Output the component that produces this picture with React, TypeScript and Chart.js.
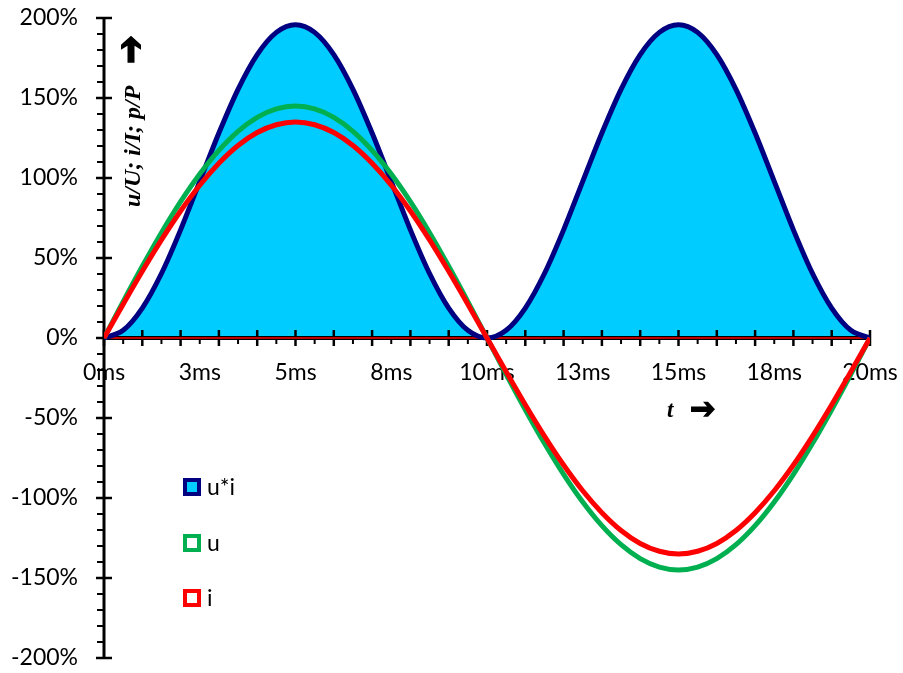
import React, { useEffect, useRef } from 'react';
import { Chart, registerables } from 'chart.js';

Chart.register(...registerables);

// time in ms
const timeMs = [
  0, 0.5, 1, 1.5, 2, 2.5, 3, 3.5, 4, 4.5, 5, 5.5, 6, 6.5, 7, 7.5, 8, 8.5, 9, 9.5, 10,
  10.5, 11, 11.5, 12, 12.5, 13, 13.5, 14, 14.5, 15, 15.5, 16, 16.5, 17, 17.5, 18, 18.5, 19, 19.5, 20,
];
// u/U in %
const uValues = [
  0, 22.7, 44.8, 65.8, 85.2, 102.5, 117.3, 129.2, 137.9, 143.2, 145, 143.2, 137.9, 129.2, 117.3, 102.5, 85.2, 65.8, 44.8, 22.7, 0,
  -22.7, -44.8, -65.8, -85.2, -102.5, -117.3, -129.2, -137.9, -143.2, -145, -143.2, -137.9, -129.2, -117.3, -102.5, -85.2, -65.8, -44.8, -22.7, 0,
];
// i/I in %
const iValues = [
  0, 21.1, 41.7, 61.3, 79.4, 95.5, 109.2, 120.3, 128.4, 133.3, 135, 133.3, 128.4, 120.3, 109.2, 95.5, 79.4, 61.3, 41.7, 21.1, 0,
  -21.1, -41.7, -61.3, -79.4, -95.5, -109.2, -120.3, -128.4, -133.3, -135, -133.3, -128.4, -120.3, -109.2, -95.5, -79.4, -61.3, -41.7, -21.1, 0,
];
// p/P = u*i in %
const pValues = [
  0, 4.8, 18.7, 40.3, 67.6, 97.9, 128.1, 155.4, 177.1, 191.0, 195.8, 191.0, 177.1, 155.4, 128.1, 97.9, 67.6, 40.3, 18.7, 4.8, 0,
  4.8, 18.7, 40.3, 67.6, 97.9, 128.1, 155.4, 177.1, 191.0, 195.8, 191.0, 177.1, 155.4, 128.1, 97.9, 67.6, 40.3, 18.7, 4.8, 0,
];

const seriesNames = ['u*i', 'u', 'i'];
const xLabelStep = 2.5;
const xMajorStep = 1;
const xMinorStep = 0.5;
const yLabelStep = 50;
const yMinorStep = 10;
const xMin = 0;
const xMax = 20;
const yMin = -200;
const yMax = 200;

const NAVY = '#000080';
const CYAN = '#00CCFF';
const GREEN = '#00B050';
const RED = '#FF0000';
const TICK_FONT = { family: 'Lato', size: 23 };

function toPoints(vals: number[]) {
  return vals.map((v, k) => ({ x: timeMs[k], y: v }));
}

function drawArrow(ctx: CanvasRenderingContext2D, x: number, y: number, angle: number, len: number, headW: number, shaftW: number, headLen: number) {
  ctx.save();
  ctx.translate(x, y);
  ctx.rotate(angle);
  const hs = shaftW / 2;
  const hh = headW / 2;
  const bx = len - headLen;
  ctx.beginPath();
  ctx.moveTo(0, -hs);
  ctx.lineTo(bx + 2, -hs);
  ctx.lineTo(bx - 2, -hh);
  ctx.lineTo(bx + 3, -hh);
  ctx.lineTo(len, 0);
  ctx.lineTo(bx + 3, hh);
  ctx.lineTo(bx - 2, hh);
  ctx.lineTo(bx + 2, hs);
  ctx.lineTo(0, hs);
  ctx.closePath();
  ctx.fillStyle = '#000';
  ctx.fill();
  ctx.restore();
}

const axesPlugin = {
  id: 'customAxes',
  beforeDatasetsDraw(chart: any) {
    const { ctx, chartArea } = chart;
    const xs = chart.scales.x;
    const ys = chart.scales.y;
    const y0 = ys.getPixelForValue(0);
    const xAxisX = xs.getPixelForValue(xMin);
    ctx.save();
    ctx.strokeStyle = '#000';
    // y axis ticks
    for (let v = yMin; v <= yMax + 1e-9; v += yMinorStep) {
      const py = ys.getPixelForValue(v);
      ctx.beginPath();
      if (Math.abs(v % yLabelStep) < 1e-9) {
        ctx.lineWidth = 2.5;
        ctx.moveTo(xAxisX - 8, py);
        ctx.lineTo(xAxisX + 8, py);
      } else {
        ctx.lineWidth = 2;
        ctx.moveTo(xAxisX - 7, py);
        ctx.lineTo(xAxisX, py);
      }
      ctx.stroke();
    }
    // y axis line
    ctx.lineWidth = 3;
    ctx.beginPath();
    ctx.moveTo(xAxisX, chartArea.top);
    ctx.lineTo(xAxisX, chartArea.bottom);
    ctx.stroke();
    // x axis ticks
    for (let v = xMin; v <= xMax + 1e-9; v += xMinorStep) {
      const px = xs.getPixelForValue(v);
      ctx.beginPath();
      if (Math.abs(v / xMajorStep - Math.round(v / xMajorStep)) < 1e-9) {
        ctx.lineWidth = 2.5;
        ctx.moveTo(px, y0 - 8);
        ctx.lineTo(px, y0 + 8);
      } else {
        ctx.lineWidth = 2;
        ctx.moveTo(px, y0);
        ctx.lineTo(px, y0 + 6);
      }
      ctx.stroke();
    }
    // x axis line
    ctx.lineWidth = 4;
    ctx.beginPath();
    ctx.moveTo(xs.getPixelForValue(xMin), y0);
    ctx.lineTo(xs.getPixelForValue(xMax), y0);
    ctx.stroke();
    ctx.strokeStyle = RED;
    ctx.lineWidth = 1.5;
    ctx.beginPath();
    ctx.moveTo(xs.getPixelForValue(xMin), y0);
    ctx.lineTo(xs.getPixelForValue(xMax), y0);
    ctx.stroke();
    ctx.restore();
  },
  afterDraw(chart: any) {
    const { ctx, chartArea } = chart;
    const xs = chart.scales.x;
    const ys = chart.scales.y;
    ctx.save();
    // y axis title (rotated)
    ctx.font = 'italic bold 24px "Liberation Serif"';
    const title = 'u/U; i/I; p/P';
    const w = ctx.measureText(title).width;
    ctx.translate(chartArea.left + 36, 207);
    ctx.rotate(-Math.PI / 2);
    ctx.fillStyle = '#000';
    ctx.textBaseline = 'alphabetic';
    ctx.textAlign = 'left';
    ctx.fillText(title, 0, 0);
    drawArrow(ctx, w + 23, -9, 0, 27, 20, 7, 12);
    ctx.restore();

    // t label
    ctx.save();
    ctx.font = 'italic bold 23px "Liberation Serif"';
    ctx.fillStyle = '#000';
    ctx.textBaseline = 'alphabetic';
    ctx.textAlign = 'left';
    const tx = xs.getPixelForValue(14.7);
    const ty = ys.getPixelForValue(-49.5);
    ctx.fillText('t', tx, ty);
    drawArrow(ctx, tx + 24, ty - 8, 0, 24, 15, 5.5, 10);
    ctx.restore();

    // legend
    ctx.save();
    const colors = [[NAVY, CYAN], [GREEN, '#FFFFFF'], [RED, '#FFFFFF']];
    const lx = chartArea.left + 79;
    const rowY = [487, 543, 598];
    ctx.font = '23px Lato';
    ctx.textBaseline = 'middle';
    ctx.textAlign = 'left';
    seriesNames.forEach((name, k) => {
      const cy = rowY[k];
      ctx.fillStyle = colors[k][0];
      ctx.fillRect(lx, cy - 9, 18, 18);
      ctx.fillStyle = colors[k][1];
      ctx.fillRect(lx + 4, cy - 5, 10, 10);
      ctx.fillStyle = '#000';
      ctx.fillText(name, lx + 24, cy + 1);
    });
    ctx.restore();
  },
};

export default function App() {
  const ref = useRef<HTMLCanvasElement | null>(null);
  useEffect(() => {
    if (!ref.current) return;
    const noPad = (s: any) => {
      s.paddingTop = 0;
      s.paddingBottom = 0;
      s.paddingLeft = 0;
      s.paddingRight = 0;
    };
    const chart = new Chart(ref.current, {
      type: 'line',
      data: {
        datasets: [
          {
            label: seriesNames[0],
            data: toPoints(pValues),
            borderColor: NAVY,
            backgroundColor: CYAN,
            borderWidth: 5,
            fill: 'origin',
            pointRadius: 0,
            cubicInterpolationMode: 'monotone',
            order: 3,
          },
          {
            label: seriesNames[1],
            data: toPoints(uValues),
            borderColor: GREEN,
            backgroundColor: GREEN,
            borderWidth: 5,
            fill: false,
            pointRadius: 0,
            cubicInterpolationMode: 'monotone',
            order: 2,
          },
          {
            label: seriesNames[2],
            data: toPoints(iValues),
            borderColor: RED,
            backgroundColor: RED,
            borderWidth: 5,
            fill: false,
            pointRadius: 0,
            cubicInterpolationMode: 'monotone',
            order: 1,
          },
        ],
      },
      options: {
        animation: false,
        responsive: true,
        maintainAspectRatio: false,
        layout: { padding: { top: 18, right: 33, bottom: 15, left: 0 } },
        plugins: {
          legend: { display: false },
          tooltip: { enabled: false },
          filler: { drawTime: 'beforeDatasetsDraw' },
        },
        scales: {
          x: {
            type: 'linear',
            position: { y: 0 },
            min: xMin,
            max: xMax,
            grid: { display: false, drawTicks: false },
            border: { display: false },
            ticks: {
              stepSize: xLabelStep,
              autoSkip: false,
              maxRotation: 0,
              color: '#000',
              font: TICK_FONT,
              padding: 21,
              callback: (v: any) => Math.round(Number(v)) + 'ms',
            },
            afterFit: noPad,
          },
          y: {
            type: 'linear',
            position: 'left',
            min: yMin,
            max: yMax,
            grid: { display: false, drawTicks: false },
            border: { display: false },
            ticks: {
              stepSize: yLabelStep,
              autoSkip: false,
              color: '#000',
              font: TICK_FONT,
              padding: 26,
              callback: (v: any) => v + '%',
            },
            afterFit: (s: any) => {
              noPad(s);
              s.width = 104;
            },
          },
        },
      } as any,
      plugins: [axesPlugin],
    });
    return () => chart.destroy();
  }, []);
  return (
    <div style={{ position: 'absolute', left: 0, top: 0, width: 903, height: 673, background: '#fff' }}>
      <canvas ref={ref} />
    </div>
  );
}
